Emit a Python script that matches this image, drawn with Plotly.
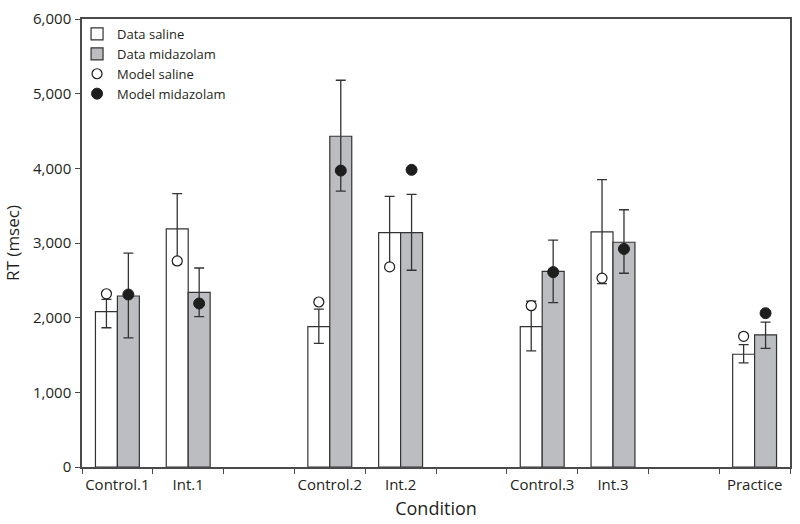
import plotly.graph_objects as go

# ---- data ----
categories = ["Control.1", "Int.1", "Control.2", "Int.2", "Control.3", "Int.3", "Practice"]
axis_order = ["Control.1", "Int.1", "", "Control.2", "Int.2", "", "Control.3", "Int.3", "", "Practice"]

data_saline = [2080, 3190, 1880, 3140, 1880, 3150, 1510]
data_saline_err_plus = [165, 470, 235, 484, 340, 700, 130]
data_saline_err_minus = [215, 470, 225, 484, 325, 695, 115]

data_midazolam = [2290, 2340, 4430, 3140, 2620, 3010, 1770]
data_midazolam_err_plus = [575, 325, 750, 510, 418, 435, 170]
data_midazolam_err_minus = [560, 325, 735, 505, 418, 415, 180]

model_saline = [2320, 2760, 2210, 2680, 2160, 2530, 1750]
model_midazolam = [2310, 2190, 3970, 3980, 2610, 2920, 2060]

y_ticks = [0, 1000, 2000, 3000, 4000, 5000, 6000]

# ---- positions on a numeric axis (one unit per slot) ----
centers = [axis_order.index(c) + 0.5 for c in categories]
bw = 0.31
x_sal = [c - bw / 2 for c in centers]
x_mid = [c + bw / 2 for c in centers]

TXT = "#231f20"
LINE = "#333333"
FONT = "Open Sans"

fig = go.Figure()

fig.add_trace(go.Bar(
    x=x_sal, y=data_saline, width=bw, name="Data saline",
    marker=dict(color="white", line=dict(color=LINE, width=1.2)),
    error_y=dict(type="data", array=data_saline_err_plus, arrayminus=data_saline_err_minus,
                 color=LINE, thickness=1.3, width=5),
))
fig.add_trace(go.Bar(
    x=x_mid, y=data_midazolam, width=bw, name="Data midazolam",
    marker=dict(color="#bcbdc0", line=dict(color=LINE, width=1.2)),
    error_y=dict(type="data", array=data_midazolam_err_plus, arrayminus=data_midazolam_err_minus,
                 color=LINE, thickness=1.3, width=5),
))
fig.add_trace(go.Scatter(
    x=x_sal, y=model_saline, mode="markers", name="Model saline",
    marker=dict(symbol="circle", size=10, color="white", line=dict(color="#1a1a1a", width=1.2)),
))
fig.add_trace(go.Scatter(
    x=x_mid, y=model_midazolam, mode="markers", name="Model midazolam",
    marker=dict(symbol="circle", size=11, color="#1e1e1e", line=dict(color="#1e1e1e", width=1)),
))

fig.update_layout(
    width=800, height=524,
    margin=dict(l=82, r=8, t=13, b=56),
    paper_bgcolor="white", plot_bgcolor="white",
    barmode="overlay",
    font=dict(family=FONT, size=15, color=TXT),
    showlegend=True,
    legend=dict(
        x=-0.007, y=1.0, xanchor="left", yanchor="top",
        bgcolor="rgba(0,0,0,0)", borderwidth=0,
        font=dict(family=FONT, size=13, color=TXT),
        itemwidth=30,
    ),
    xaxis=dict(
        range=[0, len(axis_order)],
        tickmode="array",
        tickvals=centers, ticktext=categories,
        ticks="", ticklen=0, showgrid=False, zeroline=False,
        showline=True, linecolor="#4a4a4a", linewidth=1.5, mirror=True,
        tickfont=dict(family=FONT, size=15, color=TXT),
        ticklabelstandoff=3,
        minor=dict(tickmode="array", tickvals=list(range(len(axis_order) + 1)),
                   ticks="outside", ticklen=5, tickwidth=1.3, tickcolor="#4a4a4a", showgrid=False),
        title=dict(text="Condition", font=dict(family=FONT, size=18, color=TXT), standoff=10),
    ),
    yaxis=dict(
        range=[0, 6000],
        tickmode="array", tickvals=y_ticks,
        tickformat=",d",
        ticks="outside", ticklen=5, tickwidth=1.3, tickcolor="#4a4a4a",
        showgrid=False, zeroline=False,
        showline=True, linecolor="#4a4a4a", linewidth=1.5, mirror=True,
        tickfont=dict(family=FONT, size=15, color=TXT),
        ticklabelstandoff=1,
        title=dict(text="RT (msec)", font=dict(family=FONT, size=17, color=TXT), standoff=9),
    ),
)

fig.write_html("out.html", config={"displayModeBar": False},
               post_script="document.body.style.margin='0';")
